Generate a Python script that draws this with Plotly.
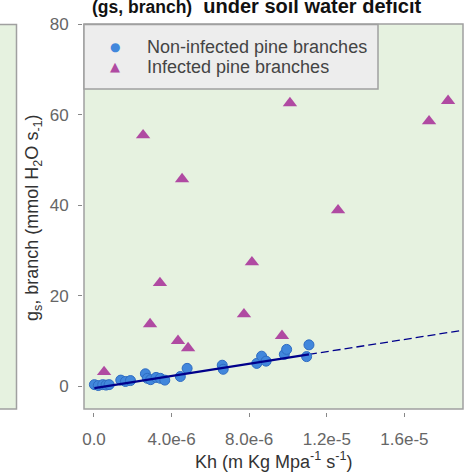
import plotly.graph_objects as go

# ---------------- data ----------------
kh_non = [0.02e-6, 0.22e-6, 0.45e-6, 0.62e-6, 0.78e-6,
          1.38e-6, 1.62e-6, 1.88e-6,
          2.65e-6, 2.75e-6, 2.92e-6, 3.2e-6, 3.42e-6, 3.65e-6,
          4.45e-6, 4.8e-6, 6.61e-6, 6.66e-6,
          8.39e-6, 8.64e-6, 8.87e-6, 9.81e-6, 9.93e-6, 10.96e-6, 11.08e-6]
gs_non = [0.3, 0.1, 0.3, 0.2, 0.3,
          1.3, 1.0, 1.2,
          2.7, 1.7, 1.4, 1.9, 1.7, 1.3,
          2.1, 3.9, 4.6, 3.7,
          5.0, 6.6, 5.5, 7.0, 8.1, 6.5, 9.1]

kh_inf = [0.52e-6, 2.53e-6, 2.89e-6, 3.40e-6, 4.33e-6, 4.54e-6, 4.85e-6,
          7.73e-6, 8.14e-6, 9.69e-6, 10.1e-6, 12.58e-6, 17.27e-6, 18.25e-6]
gs_inf = [3.1, 55.5, 13.7, 22.8, 10.0, 45.8, 8.4,
          15.9, 27.4, 11.1, 62.6, 38.9, 58.6, 63.1]

# fitted line for non-infected branches
fit_slope = 0.675e6
fit_intercept = -0.5

x_tickvals = [0, 4e-6, 8e-6, 1.2e-5, 1.6e-5]
x_ticktext = ["0.0", "4.0e-6", "8.0e-6", "1.2e-5", "1.6e-5"]
y_tickvals = [0, 20, 40, 60, 80]

legend_labels = ["Non-infected pine branches", "Infected pine branches"]
title_small = "(gs, branch)"
title_big = "under soil water deficit"
x_title = "Kh (m Kg Mpa<sup>-1</sup> s<sup>-1</sup>)"
y_title = "g<sub>s</sub>, branch (mmol H<sub>2</sub>O s<sub>-1</sub>)"

x_range = [-0.515e-6, 19.02e-6]
y_range = [-5.09, 80.1]

# ---------------- layout helpers ----------------
W, H = 465, 473
ML, MR, MT, MB = 82, 2, 24, 61
PW, PH = W - ML - MR, H - MT - MB


def px(xp):
    return (xp - ML) / PW


def py(yp):
    return (H - MB - yp) / PH


BLUE = "#4187DC"
BLUE_EDGE = "#2F6CC2"
PURPLE = "#B04AA2"
NAVY = "#00008B"
PANEL = "#E6F2E0"
BORDER = "#A0A0A0"
FONT = "Liberation Sans, Arial, Helvetica, sans-serif"

fig = go.Figure()

x_max = max(kh_non)
x_min = min(kh_non)

# dashed extrapolation
fig.add_trace(go.Scatter(
    x=[x_max, x_range[1] * 1.05],
    y=[fit_intercept + fit_slope * x_max, fit_intercept + fit_slope * x_range[1] * 1.05],
    mode="lines", line=dict(color=NAVY, width=1.3, dash="8px,4px"),
    showlegend=False, hoverinfo="skip"))

fig.add_trace(go.Scatter(
    x=kh_non, y=gs_non, mode="markers", name=legend_labels[0],
    marker=dict(symbol="circle", size=10, color=BLUE,
                line=dict(color=BLUE_EDGE, width=1)),
    showlegend=False))

fig.add_trace(go.Scatter(
    x=kh_inf, y=gs_inf, mode="markers", name=legend_labels[1],
    marker=dict(symbol="triangle-up", size=12.5, color=PURPLE,
                line=dict(width=0)),
    showlegend=False))

# solid fitted line over data range
fig.add_trace(go.Scatter(
    x=[x_min, x_max],
    y=[fit_intercept + fit_slope * x_min, fit_intercept + fit_slope * x_max],
    mode="lines", line=dict(color=NAVY, width=2.2),
    showlegend=False, hoverinfo="skip"))

shapes = [
    # panel border
    dict(type="rect", xref="x domain", yref="y domain", x0=0, x1=1, y0=0, y1=1,
         line=dict(color=BORDER, width=1.5), fillcolor="rgba(0,0,0,0)", layer="above"),
    # partial neighbouring panel on the left
    dict(type="rect", xref="paper", yref="paper", x0=px(-20), x1=px(16.5),
         y0=py(409), y1=py(24.5), line=dict(color=BORDER, width=1.5),
         fillcolor=PANEL, layer="below"),
    # manual legend box
    dict(type="rect", xref="paper", yref="paper", x0=px(84), x1=px(378),
         y0=py(89), y1=py(24.5), line=dict(color=BORDER, width=1.5),
         fillcolor="#EDEDED", layer="above"),
]

annotations = [
    dict(text="●", x=px(114.5), y=py(47), xref="paper", yref="paper",
         showarrow=False, xanchor="center", yanchor="middle",
         font=dict(family="DejaVu Sans", size=12, color=BLUE)),
    dict(text="▲", x=px(115), y=py(66.5), xref="paper", yref="paper",
         showarrow=False, xanchor="center", yanchor="middle",
         font=dict(family="DejaVu Sans", size=13, color=PURPLE)),
    dict(text=legend_labels[0], x=px(145), y=py(47), xref="paper", yref="paper",
         showarrow=False, xanchor="left", yanchor="middle",
         font=dict(family=FONT, size=18, color="#444444")),
    dict(text=legend_labels[1], x=px(145), y=py(67), xref="paper", yref="paper",
         showarrow=False, xanchor="left", yanchor="middle",
         font=dict(family=FONT, size=18, color="#444444")),
    # title (partially cut at top)
    dict(text="<b><span style='font-size:17.5px'>" + title_small + "</span>  " + title_big + "</b>",
         x=px(90), y=py(6.5), xref="paper", yref="paper", showarrow=False,
         xanchor="left", yanchor="middle",
         font=dict(family=FONT, size=20, color="#111111")),
    # axis titles
    dict(text=x_title, x=px(273), y=py(460), xref="paper", yref="paper",
         showarrow=False, xanchor="center", yanchor="middle",
         font=dict(family=FONT, size=18, color="#333333")),
    dict(text=y_title, x=px(33), y=py(218), xref="paper", yref="paper",
         showarrow=False, xanchor="center", yanchor="middle", textangle=-90,
         font=dict(family=FONT, size=18, color="#333333")),
]

fig.update_layout(
    width=W, height=H,
    margin=dict(l=ML, r=MR, t=MT, b=MB, pad=0),
    paper_bgcolor="white", plot_bgcolor=PANEL,
    showlegend=False,
    shapes=shapes, annotations=annotations,
    xaxis=dict(range=x_range, domain=[px(84), 1], anchor="free", position=0,
               tickvals=x_tickvals, ticktext=x_ticktext,
               ticks="outside", ticklen=4, tickwidth=1, tickcolor="#888888",
               showgrid=False, zeroline=False, showline=False,
               ticklabelstandoff=8,
               tickfont=dict(family=FONT, size=17, color="#666666")),
    yaxis=dict(range=y_range, domain=[py(409), 1], anchor="free", position=0,
               tickvals=y_tickvals,
               ticks="outside", ticklen=4, tickwidth=1, tickcolor="#888888",
               showgrid=False, zeroline=False, showline=False,
               ticklabelstandoff=6,
               tickfont=dict(family=FONT, size=17, color="#666666")),
)

fig.write_html(
    "out.html",
    config={"displayModeBar": False},
    post_script="document.body.style.margin='0';document.body.style.overflow='hidden';",
)
